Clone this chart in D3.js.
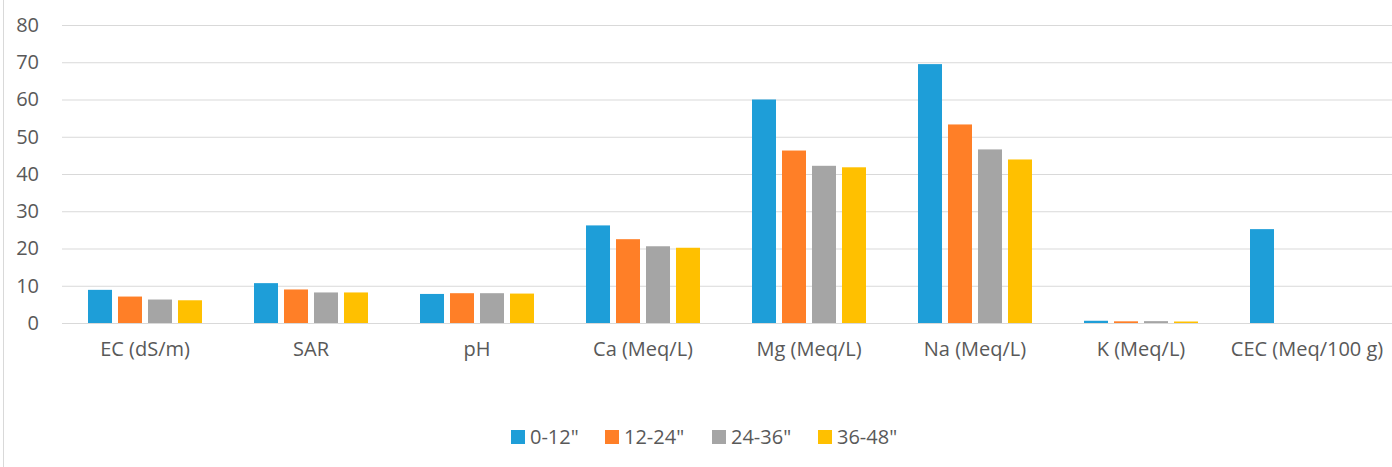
<!DOCTYPE html>
<html>
<head>
<meta charset="utf-8">
<script src="https://cdn.jsdelivr.net/npm/d3@7"></script>
<style>
  body { margin: 0; background: #fff; overflow: hidden; }
  text { font-family: "Open Sans", "Liberation Sans", sans-serif; fill: #595959; }
</style>
</head>
<body>
<svg></svg>
<script>
var categories = ["EC (dS/m)", "SAR", "pH", "Ca (Meq/L)", "Mg (Meq/L)", "Na (Meq/L)", "K (Meq/L)", "CEC (Meq/100 g)"];
var seriesNames = ['0-12"', '12-24"', '24-36"', '36-48"'];
var depth0to12 = [8.9, 10.7, 7.8, 26.2, 60.0, 69.5, 0.6, 25.2];
var depth12to24 = [7.1, 9.0, 8.0, 22.5, 46.3, 53.3, 0.45, null];
var depth24to36 = [6.3, 8.2, 8.0, 20.6, 42.2, 46.6, 0.5, null];
var depth36to48 = [6.1, 8.2, 7.9, 20.2, 41.8, 43.9, 0.4, null];
var yTicks = [0, 10, 20, 30, 40, 50, 60, 70, 80];
var colors = ["#1e9ed8", "#ff7f27", "#a5a5a5", "#ffc000"];

var allSeries = [depth0to12, depth12to24, depth24to36, depth36to48];

var width = 1392;
var height = 467;
var plotLeft = 62;
var plotRight = 1390;
var plotTop = 25;
var plotBottom = 323;
var fontSize = "20px";

var svg = d3.select("svg").attr("width", width).attr("height", height);

// outer border (only left edge visible in frame)
svg.append("line")
  .attr("x1", 3.5).attr("x2", 3.5)
  .attr("y1", 0).attr("y2", height)
  .attr("stroke", "#d9d9d9").attr("stroke-width", 1);

var x0 = d3.scaleBand().domain(categories).range([plotLeft, plotRight]).padding(0);
var x1 = d3.scaleBand()
  .domain(d3.range(seriesNames.length))
  .range([0, x0.bandwidth()])
  .paddingInner(0.2)
  .paddingOuter(0.867);
var y = d3.scaleLinear().domain([0, 80]).range([plotBottom, plotTop]);

// gridlines + y labels
var yAxis = d3.axisLeft(y).tickValues(yTicks).tickSize(-(width - plotLeft)).tickPadding(23);
var gy = svg.append("g")
  .attr("transform", "translate(" + plotLeft + ",0)")
  .call(yAxis);
gy.select(".domain").remove();
gy.selectAll(".tick line").attr("stroke", "#d9d9d9").attr("stroke-width", 1);
gy.selectAll(".tick text").style("font-size", fontSize).attr("fill", "#595959");

// bars
categories.forEach(function (cat, ci) {
  var g = svg.append("g").attr("transform", "translate(" + x0(cat) + ",0)");
  g.selectAll("rect")
    .data(allSeries.map(function (s, si) { return { si: si, v: s[ci] }; })
      .filter(function (d) { return d.v != null; }))
    .enter()
    .append("rect")
    .attr("x", function (d) { return x1(d.si); })
    .attr("width", x1.bandwidth())
    .attr("y", function (d) { return y(d.v); })
    .attr("height", function (d) { return y(0) - y(d.v); })
    .attr("fill", function (d) { return colors[d.si]; });
});

// x axis labels
var xAxis = d3.axisBottom(x0).tickSize(0).tickPadding(19);
var gx = svg.append("g")
  .attr("transform", "translate(0," + plotBottom + ")")
  .call(xAxis);
gx.select(".domain").remove();
gx.selectAll(".tick text").style("font-size", fontSize).attr("fill", "#595959");

// legend
var legendX = [511, 605, 712, 818];
var legend = svg.append("g");
seriesNames.forEach(function (name, i) {
  legend.append("rect")
    .attr("x", legendX[i]).attr("y", 430)
    .attr("width", 14).attr("height", 14)
    .attr("fill", colors[i]);
  legend.append("text")
    .attr("x", legendX[i] + 19).attr("y", 437)
    .attr("dy", "0.35em")
    .style("font-size", fontSize)
    .text(name);
});
</script>
</body>
</html>
